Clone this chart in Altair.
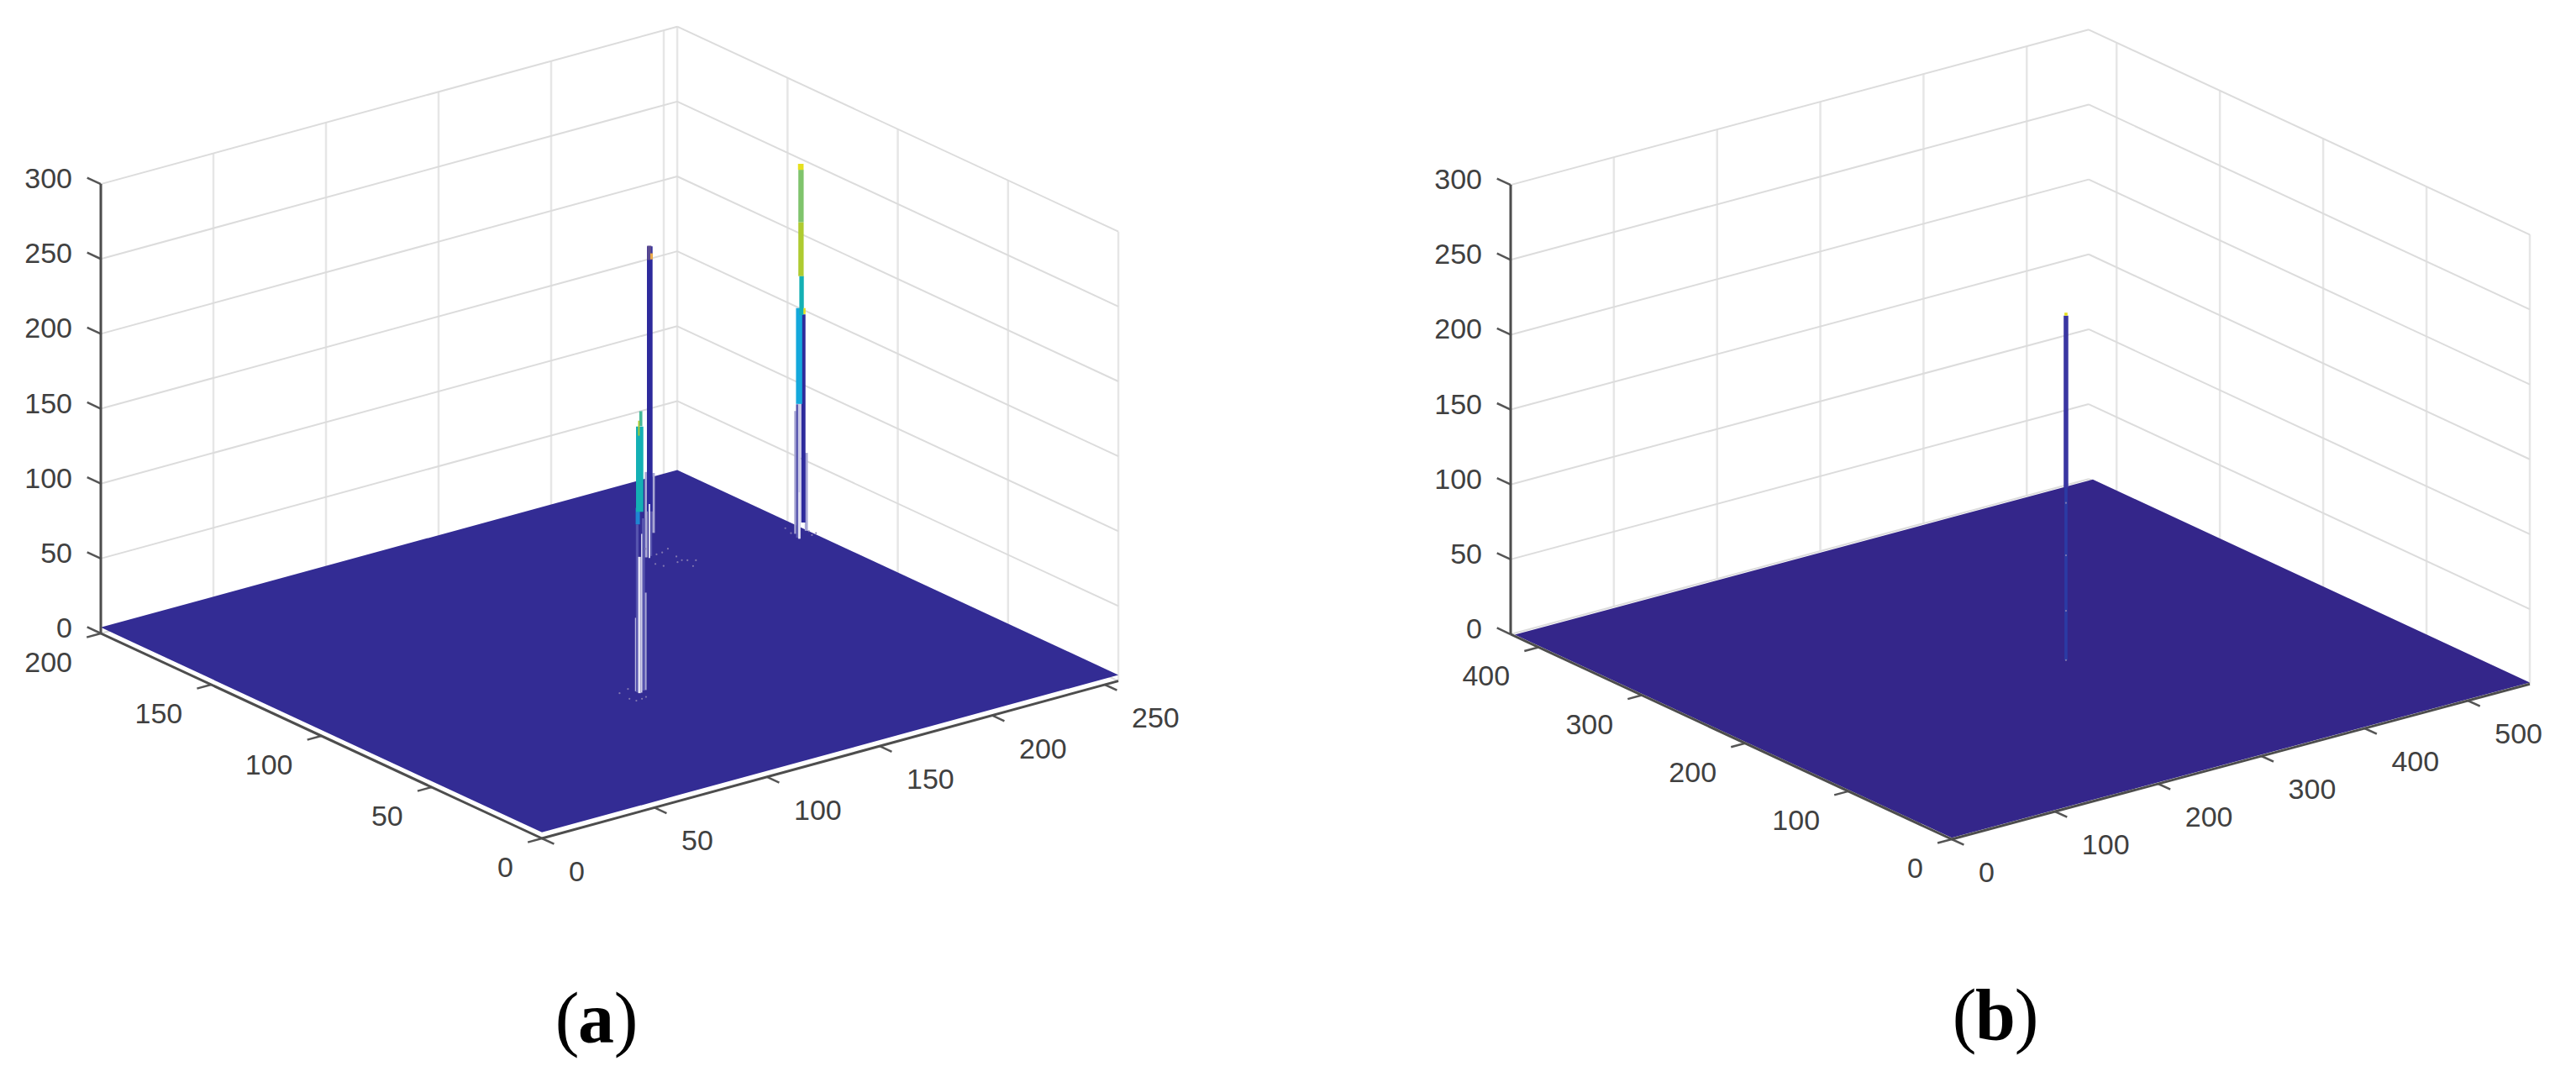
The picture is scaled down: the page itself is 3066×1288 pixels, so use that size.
import altair as alt
import numpy as np
import pandas as pd

# tick labels
a_x_ticks = [0, 50, 100, 150, 200, 250]
a_y_ticks = [0, 50, 100, 150, 200]
b_x_ticks = [0, 100, 200, 300, 400, 500]
b_y_ticks = [0, 100, 200, 300, 400]
z_ticks = [0, 50, 100, 150, 200, 250, 300]

# peaks of panel (a)
a_peak_x = [111.1, 195.0, 248.7]
a_peak_y = [69.2, 150.6, 137.3]

# strands of each peak: which peak, x offset, z range, shade, width (x units)
a_strand_peak = [2, 2, 2, 2, 2, 2, 2, 2, 2, 2, 2, 2,
                 1, 1, 1, 1, 1, 1, 1,
                 0, 0, 0, 0, 0, 0, 0, 0, 0, 0]
a_strand_dx = [-1.7, -0.55, 0.1, 3.2, 1.9, 0.1, 0.0, 1.1, 0.85, 0.85, 0.75, 2.4,
               -1.2, 2.1, 1.0, 0.4, 0.25, 0.2, 1.2,
               -1.7, 2.7, 1.75, -1.0, 0.0, 1.0, -0.75, 0.1, 0.6, -0.25]
a_strand_low = [8, 5, 4, 8, 14, 4, 94, 153, 179, 215, 250, 153,
                5, 20, 5, 35, 4, 203, 203,
                6, 5, 5, 5, 4, 4, 117, 125, 182, 176]
a_strand_high = [90, 94, 94, 60, 153, 35, 158, 179, 215, 250, 254, 157,
                 62, 60, 60, 212, 40, 212.5, 207,
                 55, 70, 120, 117, 95, 110, 128, 182, 192, 186]
a_strand_shade = ["lavender", "mid", "pale", "lavender", "blue", "white", "cyan", "teal", "olive", "green", "yellow", "yellow",
                  "lavender", "lavender", "mid", "blue", "white", "purple", "orange",
                  "pale", "lavender", "mid", "mid", "white", "white", "sky", "teal", "seafoam", "olive"]
a_strand_wide = [0.75, 1.3, 0.9, 1.1, 1.5, 0.55, 2.2, 1.6, 1.9, 1.9, 2.0, 0.75,
                 1.0, 0.9, 0.75, 2.0, 0.55, 1.5, 0.9,
                 0.45, 0.75, 1.1, 0.95, 0.95, 0.4, 1.5, 2.6, 1.1, 0.55]

# small bumps around the peak bases in (a)
a_bump_x = [199.7, 199.4, 202.1, 206.0, 203.7, 203.0, 204.5, 206.9, 202.6, 193.3, 194.4, 200.6,
            251.2, 249.8, 256.0, 256.8, 254.5,
            105.5, 110.4, 104.9, 108.4, 110.7, 105.7]
a_bump_y = [156.9, 151.6, 151.8, 153.2, 147.0, 143.8, 142.8, 141.4, 138.3, 145.9, 143.3, 143.3,
            146.1, 142.1, 140.3, 137.9, 137.4,
            72.5, 73.7, 67.4, 65.3, 65.8, 65.1]

# panel (b)
b_peak_x = [286.9]
b_peak_y = [176.1]
b_strand_peak = [0, 0, 0]
b_strand_dx = [0.0, 0.0, 0.0]
b_strand_low = [10, 125, 240]
b_strand_high = [125, 240, 242]
b_strand_shade = ["dim", "blue2", "yellow"]
b_strand_wide = [2.4, 3.6, 2.4]
b_speck_z = [115, 80, 43, 10]

shades = {
    "blue": "#2d2a9c", "blue2": "#3a36a2", "dim": "#2b3ba4", "mid": "#5654ae",
    "lavender": "#a9a8d4", "pale": "#c9c8e6", "white": "#e4e4f4", "cyan": "#14a8dc",
    "sky": "#1f86d2", "teal": "#14b0b4", "seafoam": "#45b89a", "olive": "#aecb30",
    "green": "#7fc46c", "yellow": "#e6e01e", "orange": "#e9a84a", "purple": "#5a4a90",
}

PANEL_W = 1525
PANEL_H = 1272
TEXT_COLOR = "#404040"
FONT = "Liberation Sans"
STRAND_SPREAD = 1.25  # the reference is soft, strands look wider than they are

view_a = dict(origin=(645, 998), xunit=(2.68, -0.732), yunit=(-2.625, -1.22), zunit=-1.783,
              xmax=256, ymax=200, zmax=300, floor_ymax=200, floor_z=4, left=8, floor_color="#332c94")
view_b = dict(origin=(2323, 999), xunit=(1.2286, -0.33), yunit=(-1.2295, -0.5714), zunit=-1.783,
              xmax=560, ymax=427, zmax=300, floor_ymax=423, floor_z=1, left=1533, floor_color="#34268a")


def project(view, x, y, z):
    sx = view["origin"][0] + x * view["xunit"][0] + y * view["yunit"][0]
    sy = view["origin"][1] + x * view["xunit"][1] + y * view["yunit"][1] + z * view["zunit"]
    return sx, sy


def segments(view, pairs):
    rows = []
    for start, end in pairs:
        sx, sy = project(view, *start)
        sx2, sy2 = project(view, *end)
        rows.append({"sx": sx, "sy": sy, "sx2": sx2, "sy2": sy2})
    return pd.DataFrame(rows)


def floor_table(view):
    xm, ym, z = view["xmax"], view["floor_ymax"], view["floor_z"]
    left = project(view, 0, ym, z)
    back = project(view, xm, ym, z)
    right = project(view, xm, 0, z)
    front = project(view, 0, 0, z)
    stops = sorted([left[0], back[0], right[0], front[0]])
    top = np.interp(stops, [left[0], back[0], right[0]], [left[1], back[1], right[1]])
    bottom = np.interp(stops, [left[0], front[0], right[0]], [left[1], front[1], right[1]])
    return pd.DataFrame({"sx": stops, "top": top, "bottom": bottom})


def strand_table(view, peak_x, peak_y, peak, dx, low, high, shade, wide):
    rows = []
    unit = view["xunit"][0]
    for p, d, lo, hi, sh, w in zip(peak, dx, low, high, shade, wide):
        sx, sy = project(view, peak_x[p] + d, peak_y[p], lo)
        _, sy2 = project(view, peak_x[p] + d, peak_y[p], hi)
        rows.append({"sx": sx, "sy": sy, "sy2": sy2, "shade": sh, "width": w * unit * STRAND_SPREAD})
    return pd.DataFrame(rows)


def panel(view, x_ticks, y_ticks, strands, specks, caption, caption_xs, caption_base):
    xm, ym, zm = view["xmax"], view["ymax"], view["zmax"]
    x_scale = alt.Scale(domain=[view["left"], view["left"] + PANEL_W], nice=False, zero=False)
    y_scale = alt.Scale(domain=[8 + PANEL_H, 8], nice=False, zero=False)
    x_enc = alt.X("sx:Q", scale=x_scale, axis=None)
    y_enc = alt.Y("sy:Q", scale=y_scale, axis=None)

    def rule_layer(table, color, width):
        return alt.Chart(table).mark_rule(color=color, strokeWidth=width).encode(
            x=x_enc, y=y_enc, x2="sx2:Q", y2="sy2:Q"
        )

    def text_layer(view_ticks, align, dx, dy):
        rows = []
        for label, point in view_ticks:
            sx, sy = project(view, *point)
            rows.append({"sx": sx, "sy": sy, "label": str(label)})
        return alt.Chart(pd.DataFrame(rows)).mark_text(
            font=FONT, fontSize=34, color=TEXT_COLOR, align=align, baseline="middle", dx=dx, dy=dy
        ).encode(x=x_enc, y=y_enc, text="label:N")

    wall_flat = []
    for z in z_ticks:
        wall_flat.append(((0, ym, z), (xm, ym, z)))
        wall_flat.append(((xm, ym, z), (xm, 0, z)))
    # verticals only where there is a tick, so (b) has none in the back corner
    wall_up = [((x, ym, 0), (x, ym, zm)) for x in x_ticks]
    wall_up += [((xm, y, 0), (xm, y, zm)) for y in y_ticks]

    layers = [
        rule_layer(segments(view, wall_up), "#e6e6e6", 2.5),
        rule_layer(segments(view, wall_flat), "#dcdcdc", 2),
        alt.Chart(floor_table(view)).mark_area(color=view["floor_color"], opacity=1).encode(
            x=x_enc, y=alt.Y("top:Q", scale=y_scale, axis=None), y2="bottom:Q"
        ),
        alt.Chart(strands).mark_rule().encode(
            x=x_enc,
            y=y_enc,
            y2="sy2:Q",
            color=alt.Color("shade:N", scale=alt.Scale(domain=list(shades), range=list(shades.values())), legend=None),
            size=alt.Size("width:Q", scale=None, legend=None),
        ),
        alt.Chart(specks).mark_circle(size=5, color="#8a7fb4", opacity=0.9).encode(x=x_enc, y=y_enc),
    ]

    axes = [((0, 0, 0), (xm, 0, 0)), ((0, 0, 0), (0, ym, 0)), ((0, ym, 0), (0, ym, zm))]
    ticks = [((x, 0, 0), (x, -0.0275 * ym, 0)) for x in x_ticks]
    ticks += [((0, y, 0), (-0.0245 * xm, y, 0)) for y in y_ticks]
    ticks += [((0, ym, z), (0, ym + 0.031 * ym, z)) for z in z_ticks]
    layers += [
        rule_layer(segments(view, ticks), "#555555", 2.5),
        rule_layer(segments(view, axes), "#4d4d4d", 3),
        text_layer([(z, (0, ym, z)) for z in z_ticks], "right", -34, -5),
        text_layer([(y, (0, y, 0)) for y in y_ticks], "right", -34, 36),
        text_layer([(x, (x, 0, 0)) for x in x_ticks], "left", 32, 41),
    ]

    cap = pd.DataFrame({"sx": caption_xs, "sy": [caption_base] * 3, "part": list(caption)})
    for rows, weight in ((cap.iloc[[0, 2]], "normal"), (cap.iloc[[1]], "bold")):
        layers.append(
            alt.Chart(rows).mark_text(
                font="Liberation Serif", fontSize=86, fontWeight=weight, color="#000000",
                align="center", baseline="alphabetic"
            ).encode(x=x_enc, y=y_enc, text="part:N")
        )
    return alt.layer(*layers).properties(width=PANEL_W, height=PANEL_H)


a_strands = strand_table(view_a, a_peak_x, a_peak_y, a_strand_peak, a_strand_dx,
                         a_strand_low, a_strand_high, a_strand_shade, a_strand_wide)
b_strands = strand_table(view_b, b_peak_x, b_peak_y, b_strand_peak, b_strand_dx,
                         b_strand_low, b_strand_high, b_strand_shade, b_strand_wide)

a_sx, a_sy = project(view_a, np.array(a_bump_x), np.array(a_bump_y), view_a["floor_z"])
a_specks = pd.DataFrame({"sx": a_sx, "sy": a_sy})
b_sx, b_sy = project(view_b, b_peak_x[0], b_peak_y[0], np.array(b_speck_z))
b_specks = pd.DataFrame({"sx": b_sx, "sy": b_sy})

left_panel = panel(view_a, a_x_ticks, a_y_ticks, a_strands, a_specks, "(a)", [675, 709.5, 745], 1241)
right_panel = panel(view_b, b_x_ticks, b_y_ticks, b_strands, b_specks, "(b)", [2338, 2375, 2412], 1237)

chart = alt.hconcat(left_panel, right_panel, spacing=0).properties(
    padding=0, background="white"
).configure_view(stroke=None)

chart.save("out.html", embed_options={"renderer": "svg", "actions": False})
